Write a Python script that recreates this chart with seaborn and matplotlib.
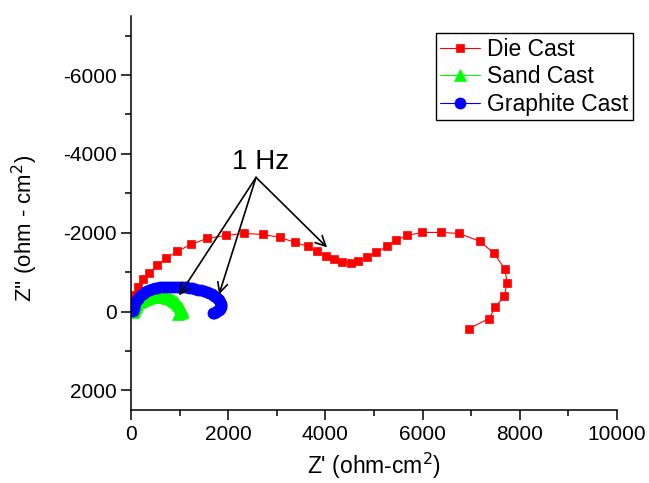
import matplotlib
matplotlib.use("Agg")
import matplotlib.pyplot as plt
import seaborn as sns
import pandas as pd
from matplotlib.ticker import MultipleLocator

# ---------------- data ----------------
die_x = [30, 80, 145, 245, 370, 535, 720, 947, 1235, 1564, 1955, 2326, 2717, 3066,
         3375, 3643, 3828, 4010, 4170, 4342, 4528, 4672, 4857, 5042, 5268, 5454,
         5680, 5989, 6380, 6750, 7182, 7471, 7697, 7738, 7676, 7491, 7368, 6956]
die_y = [-200, -420, -610, -813, -965, -1168, -1346, -1524, -1702, -1854, -1930,
         -1981, -1955, -1880, -1753, -1651, -1524, -1420, -1340, -1265, -1230,
         -1270, -1372, -1499, -1651, -1803, -1930, -2007, -2007, -1981, -1778,
         -1473, -1067, -711, -381, -102, 178, 432]

sand_x = [40, 55, 75, 100, 130, 165, 205, 250, 300, 350, 400, 450, 500, 550, 600,
          650, 700, 745, 790, 830, 865, 895, 925, 950, 975, 1000, 1030, 1045, 1050,
          1040, 1010, 975]
sand_y = [0, -50, -100, -150, -195, -235, -270, -300, -325, -345, -360, -370, -376,
          -380, -380, -376, -368, -355, -338, -318, -294, -268, -238, -205, -165,
          -120, -80, -40, -5, 25, 45, 55]

graph_x = [40, 55, 70, 90, 110, 135, 165, 200, 240, 285, 330, 380, 430, 485, 540,
           600, 660, 720, 780, 840, 900, 960, 1020, 1080, 1140, 1200, 1260, 1320,
           1380, 1440, 1500, 1555, 1610, 1660, 1705, 1745, 1780, 1810, 1830, 1845,
           1850, 1845, 1830, 1805, 1775, 1740, 1705, 1680]
graph_y = [-20, -90, -150, -210, -270, -320, -370, -415, -455, -490, -520, -545,
           -565, -585, -600, -612, -622, -628, -632, -634, -633, -630, -625, -618,
           -610, -600, -588, -574, -558, -540, -518, -494, -466, -436, -402, -366,
           -328, -288, -246, -202, -158, -114, -74, -40, -10, 15, 35, 50]

series_names = ["Die Cast", "Sand Cast", "Graphite Cast"]

# annotation "1 Hz"
hz_label = "1 Hz"
hz_text_pos = (2675, -3785)
hz_origin = (2573, -3404)
hz_tips = [(988, -406), (1811, -432), (4034, -1626)]

# ---------------- plot ----------------
sns.set_style("ticks")
plt.rcParams["font.family"] = ["Liberation Sans", "DejaVu Sans"]
plt.rcParams["axes.unicode_minus"] = False
for k in ["text.color", "axes.labelcolor", "xtick.color", "ytick.color",
          "axes.edgecolor", "xtick.labelcolor", "ytick.labelcolor"]:
    plt.rcParams[k] = "black"

fig = plt.figure(figsize=(6.49, 4.83), dpi=100)
ax = fig.add_axes([131 / 649, 1 - 410 / 483, (617 - 131) / 649, (410 - 16) / 483])

styles = [
    (die_x, die_y, "s", "#ff0000", 6.3),
    (sand_x, sand_y, "^", "#00ff00", 8.0),
    (graph_x, graph_y, "o", "#0000ff", 8.0),
]
for name, (xs, ys, mk, col, ms) in zip(series_names, styles):
    df = pd.DataFrame({"x": xs, "y": ys})
    sns.lineplot(data=df, x="x", y="y", sort=False, estimator=None, ax=ax,
                 color=col, marker=mk, markersize=ms, markeredgecolor=col,
                 markeredgewidth=0.5, linewidth=0.8, label=name)

ax.set_xlim(0, 10000)
ax.set_ylim(2500, -7500)
ax.xaxis.set_major_locator(MultipleLocator(2000))
ax.xaxis.set_minor_locator(MultipleLocator(1000))
ax.yaxis.set_major_locator(MultipleLocator(2000))
ax.yaxis.set_minor_locator(MultipleLocator(1000))
ax.tick_params(which="major", length=7, width=1.1, labelsize=15, direction="out",
               color="black", labelcolor="black")
ax.tick_params(which="minor", length=4, width=1.1, direction="out", color="black")
for s in ["top", "right"]:
    ax.spines[s].set_visible(False)
for s in ["left", "bottom"]:
    ax.spines[s].set_linewidth(1.1)
    ax.spines[s].set_color("black")

ax.set_xlabel("Z' (ohm-cm$^2$)", fontsize=16.5, va="center", color="black")
ax.xaxis.set_label_coords(0.5, -0.142)
ax.set_ylabel("Z'' (ohm - cm$^2$)", fontsize=16, va="center", color="black")
ax.yaxis.set_label_coords(-0.218, 0.462)

ax.text(hz_text_pos[0], hz_text_pos[1], hz_label, fontsize=20, ha="center",
        va="center", color="black")
for tip in hz_tips:
    ax.annotate("", xy=tip, xytext=hz_origin,
                arrowprops=dict(arrowstyle="->", color="black", lw=1.2,
                                mutation_scale=18, shrinkA=0, shrinkB=0))

leg = ax.legend(loc="upper right", bbox_to_anchor=(633 / 649, 1 - 33 / 483),
                bbox_transform=fig.transFigure, fontsize=16.5, frameon=True,
                fancybox=False, edgecolor="black", framealpha=1,
                handlelength=1.75, handletextpad=0.3, labelspacing=0.2,
                borderpad=0.2, borderaxespad=0)
leg.get_frame().set_linewidth(1.0)
for t in leg.get_texts():
    t.set_color("black")

fig.savefig("out.png", dpi=100)
